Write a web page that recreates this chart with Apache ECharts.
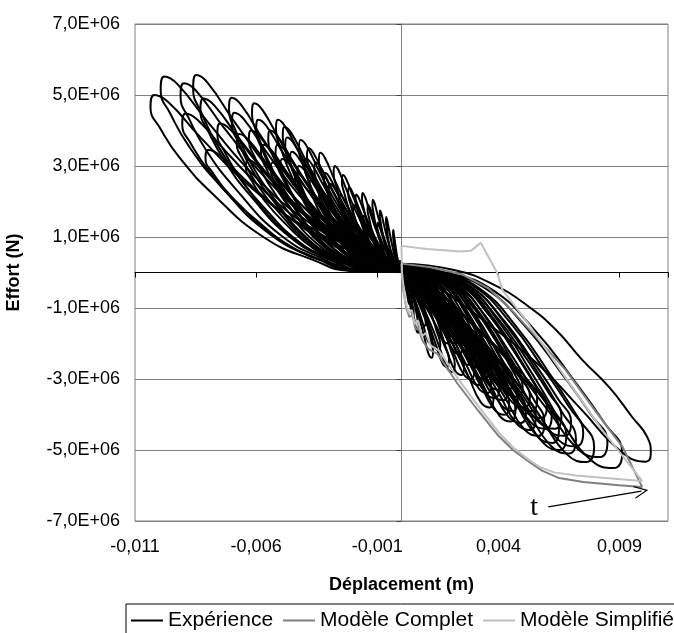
<!DOCTYPE html>
<html>
<head>
<meta charset="utf-8">
<script src="https://cdn.jsdelivr.net/npm/echarts@6/dist/echarts.min.js"></script>
<style>
html,body{margin:0;padding:0;overflow:hidden;background:#fff;}
#chart{width:674px;height:633px;}
</style>
</head>
<body>
<div id="chart"></div>
<script>
// Axis settings
const xMin = -0.011, xMax = 0.011, xStep = 0.005;
const yMin = -7e6, yMax = 7e6, yStep = 2e6;

// Expérience : loops on the negative-displacement side (upper left)
const leftLoops = [
[[0,0.25e6],[-0.00207,0.05e6],[-0.00363,0.35e6],[-0.0057,1.0e6],[-0.00777,2.2e6],[-0.00912,3.2e6],[-0.00995,4.05e6],[-0.01036,4.65e6],[-0.0102,5.0e6],[-0.00963,4.8e6],[-0.00829,3.8e6],[-0.00622,2.4e6],[-0.00414,1.35e6],[-0.00186,0.55e6],[0,0.25e6]],
[[0,0.25e6],[-0.00199,0.06e6],[-0.00348,0.39e6],[-0.00547,1.1e6],[-0.00746,2.43e6],[-0.00875,3.53e6],[-0.00954,4.47e6],[-0.00994,5.13e6],[-0.00979,5.52e6],[-0.00924,5.3e6],[-0.00795,4.2e6],[-0.00596,2.65e6],[-0.00398,1.49e6],[-0.00179,0.61e6],[0,0.25e6]],
[[0,0.25e6],[-0.00182,0.05e6],[-0.00319,0.37e6],[-0.00502,1.07e6],[-0.00684,2.35e6],[-0.00803,3.41e6],[-0.00876,4.32e6],[-0.00912,4.96e6],[-0.00898,5.33e6],[-0.00848,5.12e6],[-0.0073,4.05e6],[-0.00547,2.56e6],[-0.00365,1.44e6],[-0.00164,0.59e6],[0,0.25e6]],
[[0,0.25e6],[-0.00172,0.06e6],[-0.00301,0.39e6],[-0.00473,1.11e6],[-0.00645,2.45e6],[-0.00757,3.56e6],[-0.00826,4.5e6],[-0.0086,5.17e6],[-0.00847,5.56e6],[-0.008,5.34e6],[-0.00688,4.23e6],[-0.00516,2.67e6],[-0.00344,1.5e6],[-0.00155,0.61e6],[0,0.25e6]],
[[0,0.25e6],[-0.00142,0.05e6],[-0.00249,0.34e6],[-0.00392,0.98e6],[-0.00534,2.16e6],[-0.00627,3.15e6],[-0.00684,3.99e6],[-0.00712,4.58e6],[-0.00701,4.92e6],[-0.00662,4.72e6],[-0.0057,3.74e6],[-0.00427,2.36e6],[-0.00285,1.33e6],[-0.00128,0.54e6],[0,0.25e6]],
[[0,0.25e6],[-0.00123,0.05e6],[-0.00216,0.33e6],[-0.00339,0.95e6],[-0.00463,2.1e6],[-0.00543,3.05e6],[-0.00592,3.86e6],[-0.00617,4.44e6],[-0.00608,4.77e6],[-0.00574,4.58e6],[-0.00494,3.63e6],[-0.0037,2.29e6],[-0.00247,1.29e6],[-0.00111,0.52e6],[0,0.25e6]],
[[0,0.25e6],[-0.00104,0.04e6],[-0.00181,0.3e6],[-0.00285,0.86e6],[-0.00389,1.89e6],[-0.00456,2.75e6],[-0.00497,3.48e6],[-0.00518,4.0e6],[-0.0051,4.3e6],[-0.00482,4.13e6],[-0.00414,3.27e6],[-0.00311,2.06e6],[-0.00207,1.16e6],[-0.00093,0.47e6],[0,0.25e6]],
[[0,0.25e6],[-0.00085,0.04e6],[-0.00148,0.26e6],[-0.00233,0.75e6],[-0.00317,1.64e6],[-0.00372,2.39e6],[-0.00406,3.02e6],[-0.00423,3.47e6],[-0.00417,3.73e6],[-0.00393,3.58e6],[-0.00338,2.83e6],[-0.00254,1.79e6],[-0.00169,1.01e6],[-0.00076,0.41e6],[0,0.25e6]],
[[0,0.25e6],[-0.00068,0.03e6],[-0.00119,0.24e6],[-0.00188,0.67e6],[-0.00256,1.48e6],[-0.003,2.16e6],[-0.00327,2.73e6],[-0.00341,3.13e6],[-0.00336,3.37e6],[-0.00317,3.24e6],[-0.00273,2.56e6],[-0.00205,1.62e6],[-0.00136,0.91e6],[-0.00061,0.37e6],[0,0.25e6]],
[[0,0.25e6],[-0.00049,0.03e6],[-0.00086,0.19e6],[-0.00135,0.55e6],[-0.00185,1.21e6],[-0.00216,1.76e6],[-0.00236,2.23e6],[-0.00246,2.56e6],[-0.00242,2.75e6],[-0.00229,2.64e6],[-0.00197,2.09e6],[-0.00148,1.32e6],[-0.00098,0.74e6],[-0.00044,0.3e6],[0,0.25e6]],
[[0,0.25e6],[-0.00033,0.02e6],[-0.00057,0.16e6],[-0.0009,0.45e6],[-0.00122,0.99e6],[-0.00143,1.43e6],[-0.00156,1.81e6],[-0.00163,2.08e6],[-0.00161,2.24e6],[-0.00152,2.15e6],[-0.0013,1.7e6],[-0.00098,1.08e6],[-0.00065,0.6e6],[-0.00029,0.25e6],[0,0.25e6]],
[[0,0.25e6],[-0.00013,0.02e6],[-0.00022,0.11e6],[-0.00035,0.31e6],[-0.00048,0.69e6],[-0.00056,1.0e6],[-0.00061,1.26e6],[-0.00064,1.45e6],[-0.00063,1.56e6],[-0.0006,1.5e6],[-0.00051,1.19e6],[-0.00038,0.75e6],[-0.00026,0.42e6],[-0.00012,0.2e6],[0,0.25e6]],
[[0,0.25e6],[-0.00181,0.04e6],[-0.00317,0.31e6],[-0.00498,0.9e6],[-0.00679,1.97e6],[-0.00796,2.87e6],[-0.00869,3.63e6],[-0.00905,4.17e6],[-0.00891,4.48e6],[-0.00842,4.3e6],[-0.00724,3.4e6],[-0.00543,2.15e6],[-0.00362,1.21e6],[-0.00163,0.49e6],[0,0.25e6]],
[[0,0.25e6],[-0.00162,0.03e6],[-0.00283,0.24e6],[-0.00445,0.69e6],[-0.00607,1.52e6],[-0.00712,2.21e6],[-0.00777,2.79e6],[-0.00809,3.21e6],[-0.00797,3.45e6],[-0.00752,3.31e6],[-0.00647,2.62e6],[-0.00485,1.66e6],[-0.00324,0.93e6],[-0.00146,0.38e6],[0,0.25e6]],
[[0,0.25e6],[-0.00129,0.03e6],[-0.00225,0.22e6],[-0.00354,0.63e6],[-0.00482,1.39e6],[-0.00566,2.03e6],[-0.00617,2.57e6],[-0.00643,2.95e6],[-0.00633,3.17e6],[-0.00598,3.04e6],[-0.00514,2.41e6],[-0.00386,1.52e6],[-0.00257,0.86e6],[-0.00116,0.35e6],[0,0.25e6]],
[[0,0.25e6],[-0.00152,0.04e6],[-0.00266,0.29e6],[-0.00418,0.84e6],[-0.0057,1.85e6],[-0.00669,2.69e6],[-0.0073,3.4e6],[-0.0076,3.91e6],[-0.00749,4.2e6],[-0.00707,4.03e6],[-0.00608,3.19e6],[-0.00456,2.02e6],[-0.00304,1.13e6],[-0.00137,0.46e6],[0,0.25e6]],
[[0,0.25e6],[-0.00136,0.04e6],[-0.00238,0.27e6],[-0.00374,0.78e6],[-0.0051,1.72e6],[-0.00598,2.5e6],[-0.00653,3.16e6],[-0.0068,3.63e6],[-0.0067,3.9e6],[-0.00632,3.74e6],[-0.00544,2.96e6],[-0.00408,1.87e6],[-0.00272,1.05e6],[-0.00122,0.43e6],[0,0.25e6]],
[[0,0.25e6],[-0.00116,0.04e6],[-0.00203,0.25e6],[-0.00319,0.72e6],[-0.00435,1.58e6],[-0.0051,2.3e6],[-0.00557,2.92e6],[-0.0058,3.35e6],[-0.00571,3.6e6],[-0.00539,3.46e6],[-0.00464,2.74e6],[-0.00348,1.73e6],[-0.00232,0.97e6],[-0.00104,0.4e6],[0,0.25e6]],
[[0,0.25e6],[-0.001,0.03e6],[-0.00175,0.22e6],[-0.00275,0.64e6],[-0.00375,1.41e6],[-0.0044,2.05e6],[-0.0048,2.59e6],[-0.005,2.98e6],[-0.00493,3.2e6],[-0.00465,3.07e6],[-0.004,2.43e6],[-0.003,1.54e6],[-0.002,0.86e6],[-0.0009,0.35e6],[0,0.25e6]],
[[0,0.25e6],[-0.00092,0.03e6],[-0.00161,0.24e6],[-0.00253,0.68e6],[-0.00345,1.5e6],[-0.00405,2.18e6],[-0.00442,2.75e6],[-0.0046,3.16e6],[-0.00453,3.4e6],[-0.00428,3.26e6],[-0.00368,2.58e6],[-0.00276,1.63e6],[-0.00184,0.92e6],[-0.00083,0.37e6],[0,0.25e6]],
[[0,0.25e6],[-0.00076,0.03e6],[-0.00133,0.18e6],[-0.00209,0.52e6],[-0.00285,1.14e6],[-0.00334,1.66e6],[-0.00365,2.11e6],[-0.0038,2.42e6],[-0.00374,2.6e6],[-0.00353,2.5e6],[-0.00304,1.98e6],[-0.00228,1.25e6],[-0.00152,0.7e6],[-0.00068,0.29e6],[0,0.25e6]],
[[0,0.25e6],[-0.0006,0.03e6],[-0.00105,0.18e6],[-0.00165,0.5e6],[-0.00225,1.1e6],[-0.00264,1.6e6],[-0.00288,2.03e6],[-0.003,2.33e6],[-0.00296,2.5e6],[-0.00279,2.4e6],[-0.0024,1.9e6],[-0.0018,1.2e6],[-0.0012,0.68e6],[-0.00054,0.28e6],[0,0.25e6]],
[[0,0.25e6],[-0.0004,0.02e6],[-0.0007,0.13e6],[-0.0011,0.38e6],[-0.0015,0.84e6],[-0.00176,1.22e6],[-0.00192,1.54e6],[-0.002,1.77e6],[-0.00197,1.9e6],[-0.00186,1.82e6],[-0.0016,1.44e6],[-0.0012,0.91e6],[-0.0008,0.51e6],[-0.00036,0.21e6],[0,0.25e6]],
[[0,0.25e6],[-0.0011,0.04e6],[-0.00193,0.28e6],[-0.00303,0.8e6],[-0.00413,1.76e6],[-0.00484,2.56e6],[-0.00528,3.24e6],[-0.0055,3.72e6],[-0.00542,4.0e6],[-0.00512,3.84e6],[-0.0044,3.04e6],[-0.0033,1.92e6],[-0.0022,1.08e6],[-0.00099,0.44e6],[0,0.25e6]],
[[0,0.25e6],[-0.0008,0.03e6],[-0.0014,0.22e6],[-0.0022,0.64e6],[-0.003,1.41e6],[-0.00352,2.05e6],[-0.00384,2.59e6],[-0.004,2.98e6],[-0.00394,3.2e6],[-0.00372,3.07e6],[-0.0032,2.43e6],[-0.0024,1.54e6],[-0.0016,0.86e6],[-0.00072,0.35e6],[0,0.25e6]],
[[0,0.25e6],[-0.00024,0.02e6],[-0.00042,0.14e6],[-0.00066,0.41e6],[-0.0009,0.9e6],[-0.00106,1.31e6],[-0.00115,1.66e6],[-0.0012,1.91e6],[-0.00118,2.05e6],[-0.00112,1.97e6],[-0.00096,1.56e6],[-0.00072,0.98e6],[-0.00048,0.55e6],[-0.00022,0.23e6],[0,0.25e6]],
[[0,0.25e6],[-0.00018,0.02e6],[-0.00032,0.12e6],[-0.0005,0.35e6],[-0.00068,0.77e6],[-0.00079,1.12e6],[-0.00086,1.42e6],[-0.0009,1.63e6],[-0.00089,1.75e6],[-0.00084,1.68e6],[-0.00072,1.33e6],[-0.00054,0.84e6],[-0.00036,0.47e6],[-0.00016,0.19e6],[0,0.25e6]],
[[0,0.25e6],[-0.00007,0.01e6],[-0.00012,0.08e6],[-0.00019,0.24e6],[-0.00026,0.53e6],[-0.00031,0.77e6],[-0.00034,0.97e6],[-0.00035,1.12e6],[-0.00034,1.2e6],[-0.00033,1.15e6],[-0.00028,0.91e6],[-0.00021,0.58e6],[-0.00014,0.32e6],[-0.00006,0.13e6],[0,0.25e6]],
[[0,0.25e6],[-0.00056,0.03e6],[-0.00098,0.21e6],[-0.00154,0.6e6],[-0.0021,1.32e6],[-0.00246,1.92e6],[-0.00269,2.43e6],[-0.0028,2.79e6],[-0.00276,3.0e6],[-0.0026,2.88e6],[-0.00224,2.28e6],[-0.00168,1.44e6],[-0.00112,0.81e6],[-0.0005,0.33e6],[0,0.25e6]],
[[0,0.25e6],[-0.00072,0.03e6],[-0.00126,0.22e6],[-0.00198,0.62e6],[-0.0027,1.36e6],[-0.00317,1.98e6],[-0.00346,2.51e6],[-0.0036,2.88e6],[-0.00355,3.1e6],[-0.00335,2.98e6],[-0.00288,2.36e6],[-0.00216,1.49e6],[-0.00144,0.84e6],[-0.00065,0.34e6],[0,0.25e6]],
[[0,0.25e6],[-0.00096,0.04e6],[-0.00168,0.27e6],[-0.00264,0.76e6],[-0.0036,1.67e6],[-0.00422,2.43e6],[-0.00461,3.08e6],[-0.0048,3.53e6],[-0.00473,3.8e6],[-0.00446,3.65e6],[-0.00384,2.89e6],[-0.00288,1.82e6],[-0.00192,1.03e6],[-0.00086,0.42e6],[0,0.25e6]],
[[0,0.25e6],[-0.0012,0.04e6],[-0.0021,0.3e6],[-0.0033,0.86e6],[-0.0045,1.89e6],[-0.00528,2.75e6],[-0.00576,3.48e6],[-0.006,4.0e6],[-0.00591,4.3e6],[-0.00558,4.13e6],[-0.0048,3.27e6],[-0.0036,2.06e6],[-0.0024,1.16e6],[-0.00108,0.47e6],[0,0.25e6]],
[[0,0.25e6],[-0.0014,0.05e6],[-0.00245,0.32e6],[-0.00385,0.9e6],[-0.00525,1.98e6],[-0.00616,2.88e6],[-0.00672,3.65e6],[-0.007,4.19e6],[-0.0069,4.5e6],[-0.00651,4.32e6],[-0.0056,3.42e6],[-0.0042,2.16e6],[-0.0028,1.22e6],[-0.00126,0.5e6],[0,0.25e6]],
[[0,0.25e6],[-0.00166,0.05e6],[-0.00291,0.34e6],[-0.00457,0.98e6],[-0.00623,2.16e6],[-0.0073,3.14e6],[-0.00797,3.97e6],[-0.0083,4.56e6],[-0.00818,4.9e6],[-0.00772,4.7e6],[-0.00664,3.72e6],[-0.00498,2.35e6],[-0.00332,1.32e6],[-0.00149,0.54e6],[0,0.25e6]],
[[0,0.25e6],[-0.00044,0.02e6],[-0.00077,0.17e6],[-0.00121,0.48e6],[-0.00165,1.06e6],[-0.00194,1.54e6],[-0.00211,1.94e6],[-0.0022,2.23e6],[-0.00217,2.4e6],[-0.00205,2.3e6],[-0.00176,1.82e6],[-0.00132,1.15e6],[-0.00088,0.65e6],[-0.0004,0.26e6],[0,0.25e6]],
[[0,0.25e6],[-0.00088,0.03e6],[-0.00154,0.2e6],[-0.00242,0.56e6],[-0.0033,1.23e6],[-0.00387,1.79e6],[-0.00422,2.27e6],[-0.0044,2.6e6],[-0.00433,2.8e6],[-0.00409,2.69e6],[-0.00352,2.13e6],[-0.00264,1.34e6],[-0.00176,0.76e6],[-0.00079,0.31e6],[0,0.25e6]],
[[0,0.25e6],[-0.00108,0.03e6],[-0.00189,0.22e6],[-0.00297,0.62e6],[-0.00405,1.36e6],[-0.00475,1.98e6],[-0.00518,2.51e6],[-0.0054,2.88e6],[-0.00532,3.1e6],[-0.00502,2.98e6],[-0.00432,2.36e6],[-0.00324,1.49e6],[-0.00216,0.84e6],[-0.00097,0.34e6],[0,0.25e6]],
[[0,0.25e6],[-0.00032,0.02e6],[-0.00056,0.11e6],[-0.00088,0.32e6],[-0.0012,0.7e6],[-0.00141,1.02e6],[-0.00154,1.3e6],[-0.0016,1.49e6],[-0.00158,1.6e6],[-0.00149,1.54e6],[-0.00128,1.22e6],[-0.00096,0.77e6],[-0.00064,0.43e6],[-0.00029,0.18e6],[0,0.25e6]],
[[0,0.3e6],[-0.0002,0.01e6],[-0.00035,0.1e6],[-0.00055,0.28e6],[-0.00075,0.62e6],[-0.00088,0.9e6],[-0.00096,1.13e6],[-0.001,1.3e6],[-0.00099,1.4e6],[-0.00093,1.34e6],[-0.0008,1.06e6],[-0.0006,0.67e6],[-0.0004,0.38e6],[-0.00018,0.15e6],[0,0.3e6]],
[[0,0.3e6],[-0.00038,0.02e6],[-0.00067,0.15e6],[-0.00105,0.44e6],[-0.00143,0.97e6],[-0.00167,1.41e6],[-0.00182,1.78e6],[-0.0019,2.05e6],[-0.00187,2.2e6],[-0.00177,2.11e6],[-0.00152,1.67e6],[-0.00114,1.06e6],[-0.00076,0.59e6],[-0.00034,0.24e6],[0,0.3e6]],
[[0,0.3e6],[-0.00052,0.02e6],[-0.00091,0.15e6],[-0.00143,0.44e6],[-0.00195,0.97e6],[-0.00229,1.41e6],[-0.0025,1.78e6],[-0.0026,2.05e6],[-0.00256,2.2e6],[-0.00242,2.11e6],[-0.00208,1.67e6],[-0.00156,1.06e6],[-0.00104,0.59e6],[-0.00047,0.24e6],[0,0.3e6]],
[[0,0.3e6],[-0.00064,0.03e6],[-0.00112,0.2e6],[-0.00176,0.56e6],[-0.0024,1.23e6],[-0.00282,1.79e6],[-0.00307,2.27e6],[-0.0032,2.6e6],[-0.00315,2.8e6],[-0.00298,2.69e6],[-0.00256,2.13e6],[-0.00192,1.34e6],[-0.00128,0.76e6],[-0.00058,0.31e6],[0,0.3e6]],
[[0,0.3e6],[-0.00078,0.04e6],[-0.00137,0.25e6],[-0.00215,0.7e6],[-0.00293,1.54e6],[-0.00343,2.24e6],[-0.00374,2.84e6],[-0.0039,3.26e6],[-0.00384,3.5e6],[-0.00363,3.36e6],[-0.00312,2.66e6],[-0.00234,1.68e6],[-0.00156,0.95e6],[-0.0007,0.39e6],[0,0.3e6]],
[[0,0.3e6],[-0.00086,0.03e6],[-0.00151,0.21e6],[-0.00237,0.6e6],[-0.00323,1.32e6],[-0.00378,1.92e6],[-0.00413,2.43e6],[-0.0043,2.79e6],[-0.00424,3.0e6],[-0.004,2.88e6],[-0.00344,2.28e6],[-0.00258,1.44e6],[-0.00172,0.81e6],[-0.00077,0.33e6],[0,0.3e6]],
[[0,0.3e6],[-0.00104,0.04e6],[-0.00182,0.25e6],[-0.00286,0.72e6],[-0.0039,1.58e6],[-0.00458,2.3e6],[-0.00499,2.92e6],[-0.0052,3.35e6],[-0.00512,3.6e6],[-0.00484,3.46e6],[-0.00416,2.74e6],[-0.00312,1.73e6],[-0.00208,0.97e6],[-0.00094,0.4e6],[0,0.3e6]],
[[0,0.3e6],[-0.00126,0.04e6],[-0.00221,0.28e6],[-0.00347,0.8e6],[-0.00473,1.76e6],[-0.00554,2.56e6],[-0.00605,3.24e6],[-0.0063,3.72e6],[-0.00621,4.0e6],[-0.00586,3.84e6],[-0.00504,3.04e6],[-0.00378,1.92e6],[-0.00252,1.08e6],[-0.00113,0.44e6],[0,0.3e6]],
[[0,0.3e6],[-0.00048,0.02e6],[-0.00084,0.13e6],[-0.00132,0.36e6],[-0.0018,0.79e6],[-0.00211,1.15e6],[-0.0023,1.46e6],[-0.0024,1.67e6],[-0.00236,1.8e6],[-0.00223,1.73e6],[-0.00192,1.37e6],[-0.00144,0.86e6],[-0.00096,0.49e6],[-0.00043,0.2e6],[0,0.3e6]],
[[0,0.3e6],[-0.00028,0.02e6],[-0.00049,0.13e6],[-0.00077,0.38e6],[-0.00105,0.84e6],[-0.00123,1.22e6],[-0.00134,1.54e6],[-0.0014,1.77e6],[-0.00138,1.9e6],[-0.0013,1.82e6],[-0.00112,1.44e6],[-0.00084,0.91e6],[-0.00056,0.51e6],[-0.00025,0.21e6],[0,0.3e6]],
[[0,0.3e6],[-0.00068,0.02e6],[-0.00119,0.16e6],[-0.00187,0.46e6],[-0.00255,1.01e6],[-0.00299,1.47e6],[-0.00326,1.86e6],[-0.0034,2.14e6],[-0.00335,2.3e6],[-0.00316,2.21e6],[-0.00272,1.75e6],[-0.00204,1.1e6],[-0.00136,0.62e6],[-0.00061,0.25e6],[0,0.3e6]],
[[0,0.3e6],[-0.00098,0.04e6],[-0.00172,0.29e6],[-0.0027,0.82e6],[-0.00368,1.8e6],[-0.00431,2.62e6],[-0.0047,3.32e6],[-0.0049,3.81e6],[-0.00483,4.1e6],[-0.00456,3.94e6],[-0.00392,3.12e6],[-0.00294,1.97e6],[-0.00196,1.11e6],[-0.00088,0.45e6],[0,0.3e6]]
];

// Expérience : loops on the positive-displacement side (lower right)
const rightLoops = [
[[0,0.25e6],[0.00007,0],[0.00014,-0.07e6],[0.00021,-0.26e6],[0.00027,-0.5e6],[0.00032,-0.69e6],[0.00035,-0.83e6],[0.00034,-0.9e6],[0.0003,-0.86e6],[0.00025,-0.68e6],[0.00019,-0.47e6],[0.00012,-0.26e6],[0.00005,-0.07e6],[0,0.25e6]],
[[0,0.25e6],[0.00014,0],[0.00029,-0.14e6],[0.00043,-0.49e6],[0.00056,-0.94e6],[0.00066,-1.31e6],[0.00072,-1.56e6],[0.00069,-1.7e6],[0.00062,-1.63e6],[0.00052,-1.29e6],[0.0004,-0.88e6],[0.00025,-0.49e6],[0.00011,-0.14e6],[0,0.25e6]],
[[0,0.25e6],[0.00025,0],[0.0005,-0.16e6],[0.00076,-0.58e6],[0.00098,-1.09e6],[0.00116,-1.53e6],[0.00126,-1.83e6],[0.00121,-1.99e6],[0.00108,-1.91e6],[0.00091,-1.51e6],[0.00069,-1.03e6],[0.00044,-0.58e6],[0.00019,-0.16e6],[0,0.25e6]],
[[0,0.25e6],[0.00039,0],[0.00078,-0.21e6],[0.00118,-0.77e6],[0.00153,-1.46e6],[0.0018,-2.05e6],[0.00196,-2.45e6],[0.00188,-2.66e6],[0.00169,-2.55e6],[0.00141,-2.02e6],[0.00108,-1.38e6],[0.00069,-0.77e6],[0.00029,-0.21e6],[0,0.25e6]],
[[0,0.25e6],[0.00052,0],[0.00103,-0.23e6],[0.00155,-0.84e6],[0.00201,-1.59e6],[0.00237,-2.23e6],[0.00258,-2.66e6],[0.00248,-2.89e6],[0.00222,-2.77e6],[0.00186,-2.2e6],[0.00142,-1.5e6],[0.0009,-0.84e6],[0.00039,-0.23e6],[0,0.25e6]],
[[0,0.25e6],[0.00067,0],[0.00133,-0.25e6],[0.002,-0.92e6],[0.0026,-1.74e6],[0.00306,-2.44e6],[0.00333,-2.92e6],[0.0032,-3.17e6],[0.00286,-3.04e6],[0.0024,-2.41e6],[0.00183,-1.65e6],[0.00117,-0.92e6],[0.0005,-0.25e6],[0,0.25e6]],
[[0,0.25e6],[0.00081,0],[0.00161,-0.28e6],[0.00242,-1.03e6],[0.00314,-1.95e6],[0.00371,-2.73e6],[0.00403,-3.26e6],[0.00387,-3.54e6],[0.00347,-3.4e6],[0.0029,-2.69e6],[0.00222,-1.84e6],[0.00141,-1.03e6],[0.0006,-0.28e6],[0,0.25e6]],
[[0,0.25e6],[0.00089,0],[0.00178,-0.32e6],[0.00266,-1.16e6],[0.00346,-2.21e6],[0.00408,-3.09e6],[0.00444,-3.69e6],[0.00426,-4.01e6],[0.00382,-3.85e6],[0.0032,-3.05e6],[0.00244,-2.09e6],[0.00155,-1.16e6],[0.00067,-0.32e6],[0,0.25e6]],
[[0,0.25e6],[0.00103,0],[0.00206,-0.34e6],[0.00308,-1.23e6],[0.00401,-2.33e6],[0.00473,-3.26e6],[0.00514,-3.9e6],[0.00493,-4.24e6],[0.00442,-4.07e6],[0.0037,-3.22e6],[0.00283,-2.2e6],[0.0018,-1.23e6],[0.00077,-0.34e6],[0,0.25e6]],
[[0,0.25e6],[0.00111,0],[0.00222,-0.36e6],[0.00332,-1.29e6],[0.00432,-2.44e6],[0.0051,-3.42e6],[0.00554,-4.08e6],[0.00532,-4.44e6],[0.00476,-4.26e6],[0.00399,-3.37e6],[0.00305,-2.31e6],[0.00194,-1.29e6],[0.00083,-0.36e6],[0,0.25e6]],
[[0,0.25e6],[0.0013,0],[0.0026,-0.38e6],[0.0039,-1.39e6],[0.00507,-2.64e6],[0.00598,-3.7e6],[0.0065,-4.42e6],[0.00624,-4.8e6],[0.00559,-4.61e6],[0.00468,-3.65e6],[0.00358,-2.5e6],[0.00228,-1.39e6],[0.00098,-0.38e6],[0,0.25e6]],
[[0,0.25e6],[0.00159,0],[0.00318,-0.43e6],[0.00477,-1.55e6],[0.0062,-2.94e6],[0.00731,-4.11e6],[0.00795,-4.91e6],[0.00763,-5.34e6],[0.00684,-5.13e6],[0.00572,-4.06e6],[0.00437,-2.78e6],[0.00278,-1.55e6],[0.00119,-0.43e6],[0,0.25e6]],
[[0,0.25e6],[0.00182,0],[0.00364,-0.44e6],[0.00547,-1.6e6],[0.00711,-3.03e6],[0.00838,-4.24e6],[0.00911,-5.07e6],[0.00875,-5.51e6],[0.00783,-5.29e6],[0.00656,-4.19e6],[0.00501,-2.87e6],[0.00319,-1.6e6],[0.00137,-0.44e6],[0,0.25e6]],
[[0,0.25e6],[0.00217,0.07e6],[0.00382,-0.35e6],[0.00527,-0.97e6],[0.00638,-1.62e6],[0.00746,-2.46e6],[0.00857,-3.23e6],[0.00952,-4.07e6],[0.01014,-4.63e6],[0.01029,-5.1e6],[0.01008,-5.33e6],[0.00906,-5.04e6],[0.00741,-3.85e6],[0.00566,-2.6e6],[0.0036,-1.46e6],[0.00154,-0.42e6],[0,0.25e6]],
[[0,0.25e6],[0.0006,0],[0.0012,-0.18e6],[0.0018,-0.67e6],[0.00234,-1.27e6],[0.00276,-1.77e6],[0.003,-2.12e6],[0.00288,-2.3e6],[0.00258,-2.21e6],[0.00216,-1.75e6],[0.00165,-1.2e6],[0.00105,-0.67e6],[0.00045,-0.18e6],[0,0.25e6]],
[[0,0.25e6],[0.0008,0],[0.0016,-0.23e6],[0.0024,-0.84e6],[0.00312,-1.6e6],[0.00368,-2.23e6],[0.004,-2.67e6],[0.00384,-2.9e6],[0.00344,-2.78e6],[0.00288,-2.2e6],[0.0022,-1.51e6],[0.0014,-0.84e6],[0.0006,-0.23e6],[0,0.25e6]],
[[0,0.25e6],[0.001,0],[0.002,-0.28e6],[0.003,-1.02e6],[0.0039,-1.93e6],[0.0046,-2.7e6],[0.005,-3.22e6],[0.0048,-3.5e6],[0.0043,-3.36e6],[0.0036,-2.66e6],[0.00275,-1.82e6],[0.00175,-1.02e6],[0.00075,-0.28e6],[0,0.25e6]],
[[0,0.25e6],[0.0012,0],[0.0024,-0.33e6],[0.0036,-1.19e6],[0.00468,-2.26e6],[0.00552,-3.16e6],[0.006,-3.77e6],[0.00576,-4.1e6],[0.00516,-3.94e6],[0.00432,-3.12e6],[0.0033,-2.13e6],[0.0021,-1.19e6],[0.0009,-0.33e6],[0,0.25e6]],
[[0,0.25e6],[0.0014,0],[0.0028,-0.37e6],[0.0042,-1.33e6],[0.00546,-2.53e6],[0.00644,-3.54e6],[0.007,-4.23e6],[0.00672,-4.6e6],[0.00602,-4.42e6],[0.00504,-3.5e6],[0.00385,-2.39e6],[0.00245,-1.33e6],[0.00105,-0.37e6],[0,0.25e6]],
[[0,0.25e6],[0.00046,0],[0.00092,-0.16e6],[0.00138,-0.58e6],[0.00179,-1.1e6],[0.00212,-1.54e6],[0.0023,-1.84e6],[0.00221,-2.0e6],[0.00198,-1.92e6],[0.00166,-1.52e6],[0.00127,-1.04e6],[0.00081,-0.58e6],[0.00035,-0.16e6],[0,0.25e6]],
[[0,0.25e6],[0.00092,0],[0.00184,-0.26e6],[0.00276,-0.96e6],[0.00359,-1.82e6],[0.00423,-2.54e6],[0.0046,-3.04e6],[0.00442,-3.3e6],[0.00396,-3.17e6],[0.00331,-2.51e6],[0.00253,-1.72e6],[0.00161,-0.96e6],[0.00069,-0.26e6],[0,0.25e6]],
[[0,0.25e6],[0.00112,0],[0.00224,-0.31e6],[0.00336,-1.13e6],[0.00437,-2.15e6],[0.00515,-3.0e6],[0.0056,-3.59e6],[0.00538,-3.9e6],[0.00482,-3.74e6],[0.00403,-2.96e6],[0.00308,-2.03e6],[0.00196,-1.13e6],[0.00084,-0.31e6],[0,0.25e6]],
[[0,0.25e6],[0.00136,0],[0.00272,-0.4e6],[0.00408,-1.45e6],[0.0053,-2.75e6],[0.00626,-3.85e6],[0.0068,-4.6e6],[0.00653,-5.0e6],[0.00585,-4.8e6],[0.0049,-3.8e6],[0.00374,-2.6e6],[0.00238,-1.45e6],[0.00102,-0.4e6],[0,0.25e6]],
[[0,0.25e6],[0.0017,0],[0.0034,-0.42e6],[0.0051,-1.51e6],[0.00663,-2.86e6],[0.00782,-4.0e6],[0.0085,-4.78e6],[0.00816,-5.2e6],[0.00731,-4.99e6],[0.00612,-3.95e6],[0.00468,-2.7e6],[0.00298,-1.51e6],[0.00128,-0.42e6],[0,0.25e6]],
[[0,0.25e6],[0.00118,0],[0.00236,-0.37e6],[0.00354,-1.33e6],[0.0046,-2.53e6],[0.00543,-3.54e6],[0.0059,-4.23e6],[0.00566,-4.6e6],[0.00507,-4.42e6],[0.00425,-3.5e6],[0.00325,-2.39e6],[0.00207,-1.33e6],[0.00089,-0.37e6],[0,0.25e6]],
[[0,0.25e6],[0.0002,0],[0.0004,-0.12e6],[0.0006,-0.44e6],[0.00078,-0.83e6],[0.00092,-1.16e6],[0.001,-1.38e6],[0.00096,-1.5e6],[0.00086,-1.44e6],[0.00072,-1.14e6],[0.00055,-0.78e6],[0.00035,-0.44e6],[0.00015,-0.12e6],[0,0.25e6]],
[[0,0.25e6],[0.00032,0],[0.00064,-0.18e6],[0.00096,-0.64e6],[0.00125,-1.21e6],[0.00147,-1.69e6],[0.0016,-2.02e6],[0.00154,-2.2e6],[0.00138,-2.11e6],[0.00115,-1.67e6],[0.00088,-1.14e6],[0.00056,-0.64e6],[0.00024,-0.18e6],[0,0.25e6]],
[[0,0.25e6],[0.00058,0],[0.00116,-0.21e6],[0.00174,-0.75e6],[0.00226,-1.43e6],[0.00267,-2.0e6],[0.0029,-2.39e6],[0.00278,-2.6e6],[0.00249,-2.5e6],[0.00209,-1.98e6],[0.0016,-1.35e6],[0.00102,-0.75e6],[0.00044,-0.21e6],[0,0.25e6]],
[[0,0.25e6],[0.00072,0],[0.00144,-0.24e6],[0.00216,-0.87e6],[0.00281,-1.65e6],[0.00331,-2.31e6],[0.0036,-2.76e6],[0.00346,-3.0e6],[0.0031,-2.88e6],[0.00259,-2.28e6],[0.00198,-1.56e6],[0.00126,-0.87e6],[0.00054,-0.24e6],[0,0.25e6]],
[[0,0.25e6],[0.00084,0],[0.00168,-0.26e6],[0.00252,-0.96e6],[0.00328,-1.82e6],[0.00386,-2.54e6],[0.0042,-3.04e6],[0.00403,-3.3e6],[0.00361,-3.17e6],[0.00302,-2.51e6],[0.00231,-1.72e6],[0.00147,-0.96e6],[0.00063,-0.26e6],[0,0.25e6]],
[[0,0.25e6],[0.00096,0],[0.00192,-0.31e6],[0.00288,-1.13e6],[0.00374,-2.15e6],[0.00442,-3.0e6],[0.0048,-3.59e6],[0.00461,-3.9e6],[0.00413,-3.74e6],[0.00346,-2.96e6],[0.00264,-2.03e6],[0.00168,-1.13e6],[0.00072,-0.31e6],[0,0.25e6]],
[[0,0.25e6],[0.00124,0],[0.00248,-0.35e6],[0.00372,-1.28e6],[0.00484,-2.42e6],[0.0057,-3.39e6],[0.0062,-4.05e6],[0.00595,-4.4e6],[0.00533,-4.22e6],[0.00446,-3.34e6],[0.00341,-2.29e6],[0.00217,-1.28e6],[0.00093,-0.35e6],[0,0.25e6]],
[[0,0.25e6],[0.0015,0],[0.003,-0.39e6],[0.0045,-1.42e6],[0.00585,-2.7e6],[0.0069,-3.77e6],[0.0075,-4.51e6],[0.0072,-4.9e6],[0.00645,-4.7e6],[0.0054,-3.72e6],[0.00413,-2.55e6],[0.00263,-1.42e6],[0.00113,-0.39e6],[0,0.25e6]],
[[0,0.25e6],[0.0006,0],[0.0012,-0.24e6],[0.0018,-0.87e6],[0.00234,-1.65e6],[0.00276,-2.31e6],[0.003,-2.76e6],[0.00288,-3.0e6],[0.00258,-2.88e6],[0.00216,-2.28e6],[0.00165,-1.56e6],[0.00105,-0.87e6],[0.00045,-0.24e6],[0,0.25e6]],
[[0,0.25e6],[0.00076,0],[0.00152,-0.3e6],[0.00228,-1.1e6],[0.00296,-2.09e6],[0.0035,-2.93e6],[0.0038,-3.5e6],[0.00365,-3.8e6],[0.00327,-3.65e6],[0.00274,-2.89e6],[0.00209,-1.98e6],[0.00133,-1.1e6],[0.00057,-0.3e6],[0,0.25e6]],
[[0,0.2e6],[0.0001,0],[0.0002,-0.1e6],[0.0003,-0.35e6],[0.00039,-0.66e6],[0.00046,-0.92e6],[0.0005,-1.1e6],[0.00048,-1.2e6],[0.00043,-1.15e6],[0.00036,-0.91e6],[0.00028,-0.62e6],[0.00018,-0.35e6],[0.00008,-0.1e6],[0,0.2e6]],
[[0,0.2e6],[0.00026,0],[0.00052,-0.19e6],[0.00078,-0.7e6],[0.00101,-1.32e6],[0.0012,-1.85e6],[0.0013,-2.21e6],[0.00125,-2.4e6],[0.00112,-2.3e6],[0.00094,-1.82e6],[0.00072,-1.25e6],[0.00046,-0.7e6],[0.0002,-0.19e6],[0,0.2e6]],
[[0,0.2e6],[0.0004,0],[0.0008,-0.16e6],[0.0012,-0.58e6],[0.00156,-1.1e6],[0.00184,-1.54e6],[0.002,-1.84e6],[0.00192,-2.0e6],[0.00172,-1.92e6],[0.00144,-1.52e6],[0.0011,-1.04e6],[0.0007,-0.58e6],[0.0003,-0.16e6],[0,0.2e6]],
[[0,0.2e6],[0.0005,0],[0.001,-0.18e6],[0.0015,-0.67e6],[0.00195,-1.27e6],[0.0023,-1.77e6],[0.0025,-2.12e6],[0.0024,-2.3e6],[0.00215,-2.21e6],[0.0018,-1.75e6],[0.00138,-1.2e6],[0.00088,-0.67e6],[0.00038,-0.18e6],[0,0.2e6]],
[[0,0.2e6],[0.00068,0],[0.00136,-0.22e6],[0.00204,-0.78e6],[0.00265,-1.49e6],[0.00313,-2.08e6],[0.0034,-2.48e6],[0.00326,-2.7e6],[0.00292,-2.59e6],[0.00245,-2.05e6],[0.00187,-1.4e6],[0.00119,-0.78e6],[0.00051,-0.22e6],[0,0.2e6]],
[[0,0.2e6],[0.00088,0],[0.00176,-0.29e6],[0.00264,-1.04e6],[0.00343,-1.98e6],[0.00405,-2.77e6],[0.0044,-3.31e6],[0.00422,-3.6e6],[0.00378,-3.46e6],[0.00317,-2.74e6],[0.00242,-1.87e6],[0.00154,-1.04e6],[0.00066,-0.29e6],[0,0.2e6]],
[[0,0.2e6],[0.00106,0],[0.00212,-0.3e6],[0.00318,-1.1e6],[0.00413,-2.09e6],[0.00488,-2.93e6],[0.0053,-3.5e6],[0.00509,-3.8e6],[0.00456,-3.65e6],[0.00382,-2.89e6],[0.00292,-1.98e6],[0.00186,-1.1e6],[0.0008,-0.3e6],[0,0.2e6]],
[[0,0.2e6],[0.00132,0],[0.00264,-0.35e6],[0.00396,-1.28e6],[0.00515,-2.42e6],[0.00607,-3.39e6],[0.0066,-4.05e6],[0.00634,-4.4e6],[0.00568,-4.22e6],[0.00475,-3.34e6],[0.00363,-2.29e6],[0.00231,-1.28e6],[0.00099,-0.35e6],[0,0.2e6]],
[[0,0.2e6],[0.00074,0],[0.00148,-0.27e6],[0.00222,-0.99e6],[0.00289,-1.87e6],[0.0034,-2.62e6],[0.0037,-3.13e6],[0.00355,-3.4e6],[0.00318,-3.26e6],[0.00266,-2.58e6],[0.00204,-1.77e6],[0.0013,-0.99e6],[0.00056,-0.27e6],[0,0.2e6]],
[[0,0.2e6],[0.00044,0],[0.00088,-0.22e6],[0.00132,-0.81e6],[0.00172,-1.54e6],[0.00202,-2.16e6],[0.0022,-2.58e6],[0.00211,-2.8e6],[0.00189,-2.69e6],[0.00158,-2.13e6],[0.00121,-1.46e6],[0.00077,-0.81e6],[0.00033,-0.22e6],[0,0.2e6]],
[[0,0.2e6],[0.00094,0],[0.00188,-0.34e6],[0.00282,-1.22e6],[0.00367,-2.31e6],[0.00432,-3.23e6],[0.0047,-3.86e6],[0.00451,-4.2e6],[0.00404,-4.03e6],[0.00338,-3.19e6],[0.00259,-2.18e6],[0.00165,-1.22e6],[0.00071,-0.34e6],[0,0.2e6]],
[[0,0.2e6],[0.00144,0],[0.00288,-0.41e6],[0.00432,-1.48e6],[0.00562,-2.81e6],[0.00662,-3.93e6],[0.0072,-4.69e6],[0.00691,-5.1e6],[0.00619,-4.9e6],[0.00518,-3.88e6],[0.00396,-2.65e6],[0.00252,-1.48e6],[0.00108,-0.41e6],[0,0.2e6]]
];

// Modèle Complet
const completData = [[0,0.25e6],[0.00003,-0.3e6],[0.0001,-0.6e6],[0.0002,-1.0e6],[0.00032,-1.25e6],[0.00045,-1.2e6],[0.00058,-1.6e6],[0.0007,-1.55e6],[0.00085,-1.9e6],[0.0011,-2.15e6],[0.0015,-2.3e6],[0.0023,-3.12e6],[0.00315,-3.88e6],[0.004,-4.6e6],[0.0046,-5.0e6],[0.0052,-5.3e6],[0.0058,-5.58e6],[0.0065,-5.79e6],[0.0075,-5.9e6],[0.00898,-5.99e6],[0.00993,-6.04e6],[0.00912,-4.91e6],[0.008,-3.9e6],[0.00678,-2.75e6],[0.0056,-1.85e6],[0.0046,-1.1e6],[0.0036,-0.45e6],[0.0025,-0.05e6],[0.0012,0.15e6],[0,0.25e6]];

// Modèle Simplifié
const simplifieData = [[0,0.75e6],[0.00002,0],[0.0001,-0.5e6],[0.00015,-0.8e6],[0.0003,-1.15e6],[0.00042,-1.05e6],[0.00055,-1.45e6],[0.00068,-1.35e6],[0.00085,-1.8e6],[0.001,-1.7e6],[0.0012,-2.05e6],[0.00155,-2.2e6],[0.00237,-3.03e6],[0.0032,-3.79e6],[0.00403,-4.52e6],[0.0046,-4.92e6],[0.00514,-5.22e6],[0.0057,-5.48e6],[0.0063,-5.63e6],[0.0072,-5.72e6],[0.00828,-5.78e6],[0.00993,-5.87e6],[0.00829,-4.44e6],[0.00692,-3.11e6],[0.00513,-1.34e6],[0.00416,-0.49e6],[0.00396,-0.02e6],[0.00327,0.84e6],[0.00299,0.68e6],[0.00286,0.61e6],[0.00244,0.59e6],[0.00105,0.66e6],[0,0.75e6]];

// Annotation "t" with its arrow
const tLabelPos = [0.00547, -6.61e6];
const arrowFrom = [0.00606, -6.60e6];
const arrowTo = [0.00990, -6.16e6];

const FONT = 'Liberation Sans, Arial, sans-serif';

function fmtX(v) { return v.toFixed(3).replace('.', ','); }
function fmtY(v) {
  const m = v / 1e6;
  return (m < 0 ? '-' : '') + Math.abs(m).toFixed(1).replace('.', ',') + 'E+06';
}

const series = [];
leftLoops.concat(rightLoops).forEach(function (d) {
  series.push({
    type: 'line', name: 'Expérience', data: d, smooth: 0.5,
    symbol: 'none', showSymbol: false, silent: true, z: 2,
    lineStyle: { color: '#000', width: 2 }, itemStyle: { color: '#000' }
  });
});
series.push({
  type: 'line', name: 'Modèle Complet', data: completData, smooth: false,
  symbol: 'none', showSymbol: false, silent: true, z: 3,
  lineStyle: { color: '#808080', width: 2 }, itemStyle: { color: '#808080' }
});
series.push({
  type: 'line', name: 'Modèle Simplifié', data: simplifieData, smooth: false,
  symbol: 'none', showSymbol: false, silent: true, z: 4,
  lineStyle: { color: '#c0c0c0', width: 2 }, itemStyle: { color: '#c0c0c0' },
  markLine: {
    silent: true, animation: false,
    symbol: ['none', 'path://M0,20 L10,0 L20,20 L18,20 L10,4 L2,20 Z'],
    symbolSize: [13, 14],
    lineStyle: { color: '#000', width: 1.3, type: 'solid' },
    label: { show: false },
    data: [[{ coord: arrowFrom }, { coord: arrowTo }]]
  },
  markPoint: {
    silent: true, animation: false,
    symbol: 'circle', symbolSize: 1,
    itemStyle: { color: 'rgba(0,0,0,0)' },
    label: { show: true, formatter: 't', color: '#000', fontSize: 28,
             fontFamily: 'Liberation Serif, Times New Roman, serif', position: 'inside' },
    data: [{ coord: tLabelPos }]
  }
});

const chart = echarts.init(document.getElementById('chart'), null, { renderer: 'canvas' });
chart.setOption({
  animation: false,
  backgroundColor: '#fff',
  textStyle: { fontFamily: FONT },
  grid: { left: 135, top: 24, width: 533, height: 497, show: true,
          borderColor: '#808080', borderWidth: 1, backgroundColor: '#fff',
          containLabel: false, outerBoundsMode: 'none' },
  legend: {
    data: ['Expérience', 'Modèle Complet', 'Modèle Simplifié'],
    left: 126, top: 604, width: 1200,
    icon: 'rect', itemWidth: 32, itemHeight: 2, itemGap: 10,
    padding: [6, 5, 10, 5],
    borderColor: '#000', borderWidth: 1,
    textStyle: { fontSize: 21, color: '#000', fontFamily: FONT }
  },
  xAxis: [
    { type: 'value', min: xMin, max: xMax, interval: xStep, position: 'bottom',
      name: 'Déplacement (m)', nameLocation: 'middle', nameGap: 55,
      nameTextStyle: { fontSize: 18, fontWeight: 'bold', color: '#000', fontFamily: FONT },
      axisLine: { show: false, onZero: false }, axisTick: { show: false },
      splitLine: { show: false },
      axisLabel: { fontSize: 18, color: '#000', margin: 17, formatter: fmtX,
                   showMinLabel: true, showMaxLabel: false } },
    { type: 'value', min: xMin, max: xMax, interval: xStep, position: 'bottom',
      axisLine: { show: true, onZero: true, lineStyle: { color: '#000', width: 1 } },
      axisTick: { show: true, inside: false, length: 5, lineStyle: { color: '#000' } },
      axisLabel: { show: false }, splitLine: { show: false } }
  ],
  yAxis: [
    { type: 'value', min: yMin, max: yMax, interval: yStep, position: 'left',
      name: 'Effort (N)', nameLocation: 'middle', nameGap: 112, nameRotate: 90,
      nameTextStyle: { fontSize: 18, fontWeight: 'bold', color: '#000', fontFamily: FONT },
      axisLine: { show: false, onZero: false }, axisTick: { show: false },
      splitLine: { show: true, lineStyle: { color: '#808080', width: 1 } },
      axisLabel: { fontSize: 18, color: '#000', margin: 15, formatter: fmtY } },
    { type: 'value', min: yMin, max: yMax, interval: yStep, position: 'left',
      axisLine: { show: true, onZero: true, onZeroAxisIndex: 0, lineStyle: { color: '#808080', width: 1 } },
      axisTick: { show: true, inside: false, length: 5, lineStyle: { color: '#404040' } },
      axisLabel: { show: false }, splitLine: { show: false } }
  ],
  series: series
});
</script>
</body>
</html>
